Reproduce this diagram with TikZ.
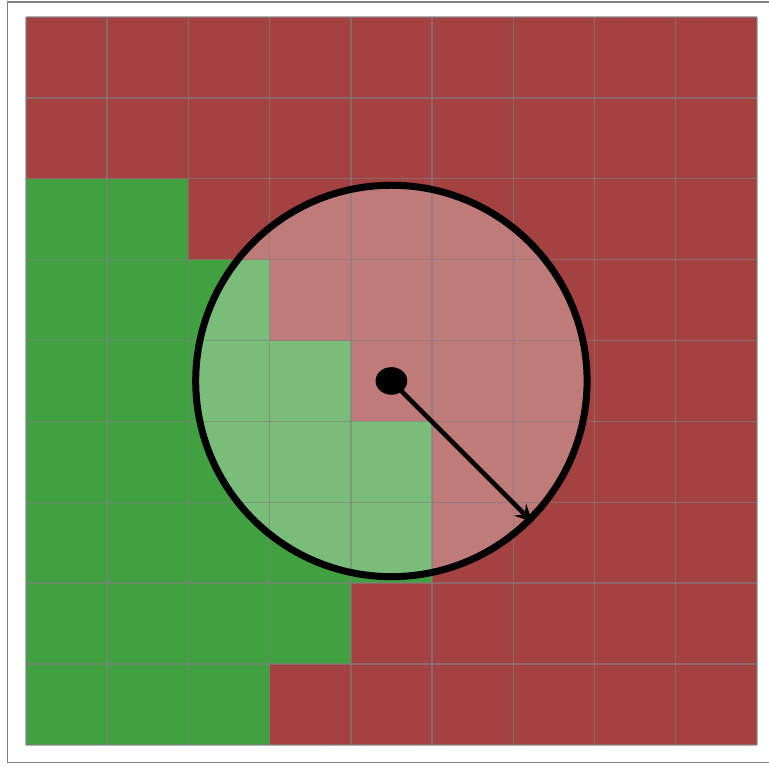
\documentclass[tikz,border=0pt]{standalone}
\usetikzlibrary{shapes.geometric, arrows, positioning}

\definecolor{cellred}{RGB}{164,65,65}
\definecolor{cellgreen}{RGB}{65,161,65}
\definecolor{gridgray}{RGB}{128,128,128}

\begin{document}
\begin{tikzpicture}[x=1cm, y=0.996cm]
    % Styles
    \tikzstyle{redcell} = [fill=cellred]
    \tikzstyle{greencell} = [fill=cellgreen]
    \tikzstyle{gridline} = [draw=gridgray, opacity=0.6, line width=0.5pt]
    \tikzstyle{rangedisc} = [circle, minimum size=4.82cm, inner sep=0pt, fill=white, fill opacity=0.3]
    \tikzstyle{rangerim} = [circle, draw=black, line width=2.45pt, minimum size=4.82cm, inner sep=0pt]
    \tikzstyle{agentdot} = [ellipse, fill=black, minimum width=0.39cm, minimum height=0.34cm, inner sep=0pt]
    \tikzstyle{arrow} = [line width=1.6pt, ->, >=stealth]

    \useasboundingbox (-0.32,-0.25) rectangle (9.15,9.21);

    % Frame
    \draw [gridgray, line width=0.5pt] (9.6,9.185) -- (-0.225,9.185) -- (-0.225,-0.215) -- (9.6,-0.215);

    % Cells
    \fill [redcell] (0,0) rectangle (9,9);
    \foreach \row/\n in {6/2, 5/3, 4/4, 3/5, 2/5, 1/4, 0/3}
        \fill [greencell] (0,\row) rectangle (\n,\row+1);

    % Range circle
    \node (disc) [rangedisc] at (4.5,4.5) {};

    % Grid
    \foreach \i in {0,...,9} {
        \draw [gridline] (\i,0) -- (\i,9);
        \draw [gridline] (0,\i) -- (9,\i);
    }

    % Circle outline and agent
    \node (rim) [rangerim] at (disc) {};
    \node (agent) [agentdot] at (disc) {};
    \draw [arrow] (agent.center) -- (rim.-45);

\end{tikzpicture}
\end{document}
